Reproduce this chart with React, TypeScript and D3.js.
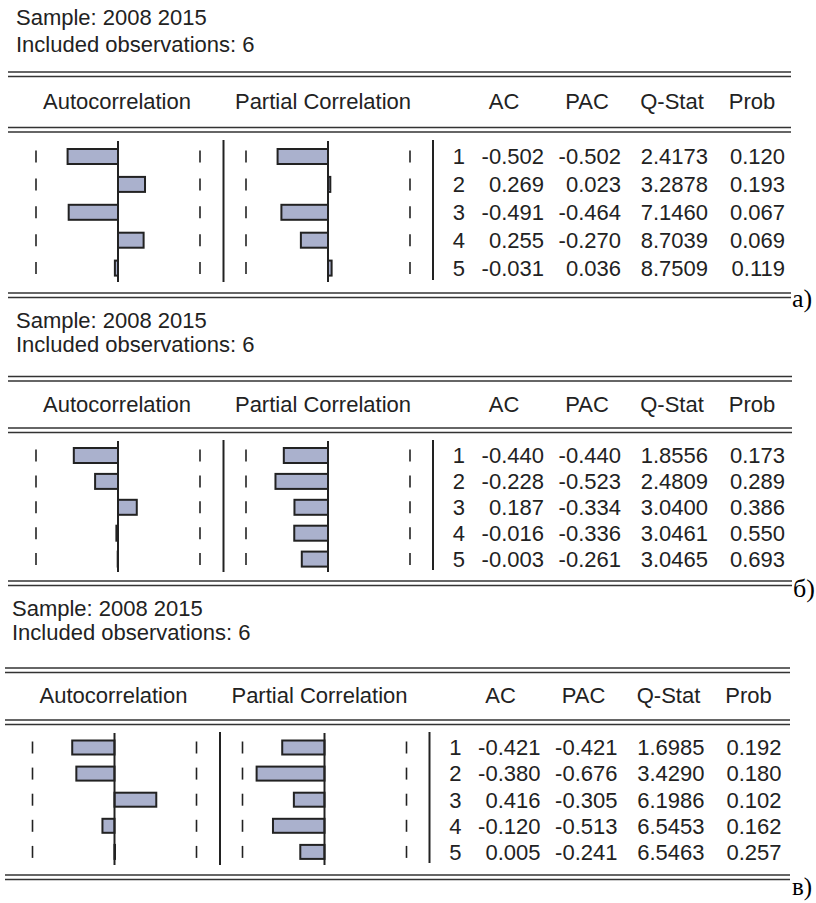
import React from "react";
import * as d3 from "d3";

// ---------- data ----------
const lags = [1, 2, 3, 4, 5];
const titleSample = "Sample: 2008 2015";
const titleObs = "Included observations: 6";
const headers = ["Autocorrelation", "Partial Correlation", "AC", "PAC", "Q-Stat", "Prob"];
const panelLabels = ["а)", "б)", "в)"];

const acA = [-0.502, 0.269, -0.491, 0.255, -0.031];
const pacA = [-0.502, 0.023, -0.464, -0.27, 0.036];
const qA = [2.4173, 3.2878, 7.146, 8.7039, 8.7509];
const probA = [0.12, 0.193, 0.067, 0.069, 0.119];

const acB = [-0.44, -0.228, 0.187, -0.016, -0.003];
const pacB = [-0.44, -0.523, -0.334, -0.336, -0.261];
const qB = [1.8556, 2.4809, 3.04, 3.0461, 3.0465];
const probB = [0.173, 0.289, 0.386, 0.55, 0.693];

const acC = [-0.421, -0.38, 0.416, -0.12, 0.005];
const pacC = [-0.421, -0.676, -0.305, -0.513, -0.241];
const qC = [1.6985, 3.429, 6.1986, 6.5453, 6.5463];
const probC = [0.192, 0.18, 0.102, 0.162, 0.257];

// confidence bound (2/sqrt(n), n = 6 observations)
const nObs = 6;

// ---------- layout (positions only) ----------
const layouts = [
  { dx: 0, lx0: 8, lx1: 791, tx: 16, t1: 24.5, t2: 52, top: 72, head: 109, headLine: 127.5, vTop: 141, vBot: 282, row0: 156.5, step: 27.9, barH: 15, bottom: 293, labX: 792, labY: 307, labSize: 26 },
  { dx: 0, lx0: 8, lx1: 792, tx: 16, t1: 328, t2: 352, top: 376.5, head: 411.5, headLine: 428, vTop: 441, vBot: 572, row0: 455.5, step: 25.9, barH: 15, bottom: 581, labX: 793, labY: 597, labSize: 26 },
  { dx: -3.5, lx0: 5, lx1: 790, tx: 12, t1: 615.5, t2: 639.5, top: 668, head: 703, headLine: 720, vTop: 733, vBot: 865, row0: 747.5, step: 26.1, barH: 14, bottom: 875, labX: 792, labY: 895, labSize: 25 },
];

const panelData = [
  { ac: acA, pac: pacA, q: qA, prob: probA },
  { ac: acB, pac: pacB, q: qB, prob: probB },
  { ac: acC, pac: pacC, q: qC, prob: probC },
];

const FONT = "'Liberation Sans', Arial, sans-serif";
const SERIF = "'Liberation Serif', 'Times New Roman', serif";
const INK = "#222";
const BAR_FILL = "#aab1cd";

const locale = d3.formatLocale({
  decimal: ".",
  thousands: ",",
  grouping: [3],
  currency: ["", ""],
  minus: "-",
});
const f3 = locale.format(".3f");
const f4 = locale.format(".4f");

function DoubleLine({ x0, x1, y }: { x0: number; x1: number; y: number }) {
  return (
    <g stroke="#333" strokeWidth={1.6}>
      <line x1={x0} x2={x1} y1={y} y2={y} />
      <line x1={x0} x2={x1} y1={y + 4.5} y2={y + 4.5} />
    </g>
  );
}

function Panel({ idx }: { idx: number }) {
  const L = layouts[idx];
  const D = panelData[idx];
  const bound = 2 / Math.sqrt(nObs);
  const dx = L.dx;
  const xAC = d3.scaleLinear().domain([-bound, bound]).range([36 + dx, 200 + dx]);
  const xPAC = d3.scaleLinear().domain([-bound, bound]).range([246 + dx, 410 + dx]);
  const y = d3.scaleLinear().domain([1, 5]).range([L.row0, L.row0 + 4 * L.step]);
  const sepX = 223.5 + dx;
  const tabSepX = 433 + dx;
  const colRight = { lag: 465 + dx, ac: 544 + dx, pac: 621 + dx, q: 708 + dx, prob: 785 + dx };
  const headCenters = [117 + dx, 323 + dx, 504 + dx, 587 + dx, 672 + dx, 752 + dx];

  const bar = (scale: d3.ScaleLinear<number, number>, v: number, lag: number, key: string) => {
    const x0 = scale(0);
    const x1 = scale(v);
    return (
      <rect
        key={key}
        x={Math.min(x0, x1)}
        y={y(lag) - L.barH / 2}
        width={Math.abs(x1 - x0)}
        height={L.barH}
        fill={BAR_FILL}
        stroke={INK}
        strokeWidth={2}
      />
    );
  };

  const tick = (x: number, lag: number, key: string) => (
    <line key={key} x1={x} x2={x} y1={y(lag) - 6} y2={y(lag) + 6} stroke={INK} strokeWidth={1.6} />
  );

  return (
    <g>
      <text x={L.tx} y={L.t1} fontFamily={FONT} fontSize={22} fill={INK}>{titleSample}</text>
      <text x={L.tx} y={L.t2} fontFamily={FONT} fontSize={22} fill={INK}>{titleObs}</text>
      <DoubleLine x0={L.lx0} x1={L.lx1} y={L.top} />
      {headers.map((h, i) => (
        <text key={h} x={headCenters[i]} y={L.head} textAnchor="middle" fontFamily={FONT} fontSize={22} fill={INK}>
          {h}
        </text>
      ))}
      <DoubleLine x0={L.lx0} x1={L.lx1} y={L.headLine} />

      {/* bars */}
      {lags.map((lag, i) => bar(xAC, D.ac[i], lag, `ac${i}`))}
      {lags.map((lag, i) => bar(xPAC, D.pac[i], lag, `pac${i}`))}

      {/* confidence ticks */}
      {lags.map((lag) => (
        <g key={`t${lag}`}>
          {tick(xAC(-bound), lag, "a")}
          {tick(xAC(bound), lag, "b")}
          {tick(xPAC(-bound), lag, "c")}
          {tick(xPAC(bound), lag, "d")}
        </g>
      ))}

      {/* vertical lines */}
      <g stroke={INK} strokeWidth={2}>
        <line x1={xAC(0)} x2={xAC(0)} y1={L.vTop} y2={L.vBot} />
        <line x1={xPAC(0)} x2={xPAC(0)} y1={L.vTop} y2={L.vBot} />
        <line x1={sepX} x2={sepX} y1={L.vTop - 1} y2={L.vBot} />
        <line x1={tabSepX} x2={tabSepX} y1={L.vTop - 1} y2={L.vBot - 2} />
      </g>

      {/* table */}
      {lags.map((lag, i) => {
        const ty = y(lag) + 7.8;
        return (
          <g key={`r${lag}`} fontFamily={FONT} fontSize={22} fill={INK} textAnchor="end">
            <text x={colRight.lag} y={ty}>{lag}</text>
            <text x={colRight.ac} y={ty}>{f3(D.ac[i])}</text>
            <text x={colRight.pac} y={ty}>{f3(D.pac[i])}</text>
            <text x={colRight.q} y={ty}>{f4(D.q[i])}</text>
            <text x={colRight.prob} y={ty}>{f3(D.prob[i])}</text>
          </g>
        );
      })}

      <DoubleLine x0={L.lx0} x1={L.lx1} y={L.bottom} />
      <text x={L.labX} y={L.labY} fontFamily={SERIF} fontSize={L.labSize} fill="#000">
        {panelLabels[idx]}
      </text>
    </g>
  );
}

export default function App() {
  return (
    <svg
      width={816}
      height={903}
      viewBox="0 0 816 903"
      style={{ position: "absolute", left: 0, top: 0, background: "#fff" }}
    >
      <rect x={0} y={0} width={816} height={903} fill="#fff" />
      {layouts.map((_, i) => (
        <Panel key={i} idx={i} />
      ))}
    </svg>
  );
}
